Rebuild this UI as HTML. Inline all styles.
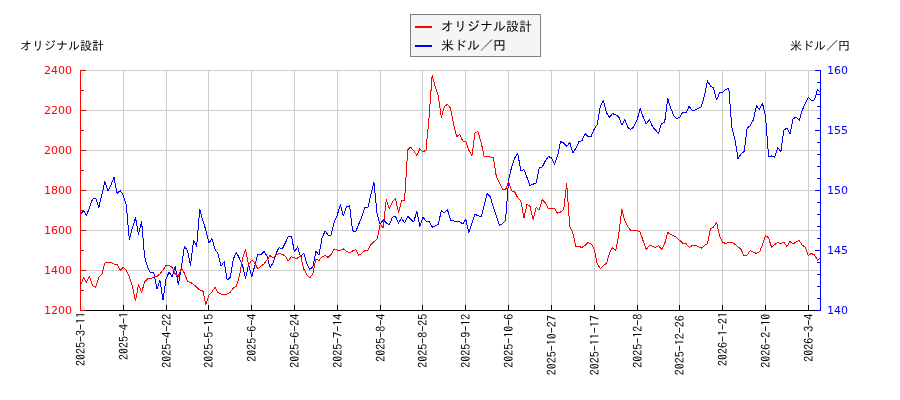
<!DOCTYPE html>
<html lang="ja"><head><meta charset="utf-8"><title>オリジナル設計 米ドル／円</title>
<style>
html,body{margin:0;padding:0;background:#fff;}
body{width:900px;height:400px;overflow:hidden;}
svg{display:block;}
.num{font-family:"DejaVu Sans","Liberation Sans",sans-serif;font-size:11px;}
.jp{font-family:"IPAGothic","Liberation Sans","Noto Sans CJK JP",sans-serif;font-size:12px;fill:#000;}
.lg{font-family:"IPAGothic","Liberation Sans","Noto Sans CJK JP",sans-serif;font-size:13px;fill:#000;}
.xt{font-family:"IPAGothic","Liberation Mono","Noto Sans CJK JP",monospace;font-size:12px;fill:#000;}
</style></head><body>
<svg width="900" height="400" viewBox="0 0 900 400">
<rect width="900" height="400" fill="#ffffff"/>
<path d="M80.5 70V310M123.5 70V310M166.5 70V310M208.5 70V310M251.5 70V310M294.5 70V310M337.5 70V310M380.5 70V310M422.5 70V310M465.5 70V310M508.5 70V310M551.5 70V310M594.5 70V310M637.5 70V310M679.5 70V310M722.5 70V310M765.5 70V310M808.5 70V310M80 70.5H821M80 110.5H821M80 150.5H821M80 190.5H821M80 230.5H821M80 270.5H821M80 310.5H821" stroke="#cccccc" stroke-width="1" fill="none"/>
<polyline points="80.4,214.4 83.5,210.6 86.5,215.6 89.6,207.0 92.6,199.0 95.7,198.2 98.8,207.4 101.8,195.0 104.9,181.4 107.9,191.0 111.0,185.0 114.0,177.4 117.1,193.4 120.2,190.6 123.2,195.0 126.3,205.0 129.3,239.6 132.4,228.0 135.5,217.6 138.5,234.4 141.6,221.6 144.6,257.0 147.7,267.6 150.7,273.0 153.8,272.6 156.9,289.0 159.9,280.0 163.0,300.0 166.0,279.0 169.1,272.0 172.2,277.0 175.2,266.0 178.3,285.0 181.3,268.0 184.4,246.6 187.5,250.4 190.5,265.4 193.6,240.5 196.6,246.5 199.7,209.4 202.7,220.0 205.8,230.0 208.9,243.0 211.9,238.6 215.0,249.0 218.0,254.0 221.1,266.0 224.2,261.6 227.2,280.0 230.3,277.4 233.3,259.0 236.4,252.4 239.4,258.4 242.5,265.4 245.6,278.4 248.6,264.0 251.7,277.0 254.7,266.0 257.8,254.0 260.9,255.0 263.9,251.4 267.0,256.0 270.0,267.4 273.1,263.0 276.2,253.0 279.2,247.4 282.3,249.0 285.3,243.0 288.4,236.4 291.4,236.4 294.5,252.0 297.6,247.0 300.6,257.0 303.7,253.0 306.7,263.0 309.8,269.4 312.9,267.0 315.9,251.4 319.0,255.0 322.0,238.0 325.1,231.0 328.1,235.0 331.2,235.0 334.3,221.5 337.3,215.0 340.4,204.4 343.4,216.0 346.5,207.0 349.6,206.0 352.6,230.6 355.7,232.0 358.7,224.2 361.8,217.0 364.8,207.4 367.9,207.6 371.0,194.0 374.0,182.4 377.1,214.0 380.1,224.4 383.2,219.6 386.3,223.0 389.3,225.0 392.4,217.2 395.4,216.2 398.5,223.0 401.6,218.0 404.6,223.0 407.7,216.3 410.7,219.4 413.8,222.0 416.8,211.0 419.9,226.5 423.0,217.2 426.0,221.0 429.1,221.5 432.1,227.2 435.2,226.0 438.3,224.4 441.3,210.6 444.4,213.0 447.4,209.4 450.5,220.0 453.5,221.0 456.6,221.2 459.7,221.6 462.7,224.0 465.8,219.4 468.8,232.4 471.9,223.6 475.0,214.4 478.0,215.6 481.1,217.2 484.1,205.6 487.2,193.6 490.3,196.6 493.3,207.0 496.4,216.0 499.4,225.4 502.5,223.6 505.5,220.4 508.6,180.0 511.7,166.6 514.7,158.0 517.8,153.4 520.8,171.0 523.9,169.6 527.0,177.4 530.0,185.6 533.1,184.2 536.1,183.0 539.2,168.0 542.2,167.0 545.3,161.0 548.4,156.4 551.4,158.0 554.5,164.0 557.5,156.0 560.6,141.6 563.7,143.0 566.7,146.4 569.8,142.5 572.8,153.0 575.9,148.0 579.0,141.6 582.0,140.6 585.1,133.6 588.1,136.4 591.2,136.4 594.2,129.0 597.3,124.4 600.4,106.0 603.4,100.6 606.5,113.0 609.5,117.0 612.6,113.6 615.7,115.0 618.7,116.6 621.8,125.0 624.8,119.6 627.9,127.6 630.9,129.4 634.0,126.4 637.1,120.0 640.1,108.6 643.2,117.0 646.2,124.0 649.3,119.6 652.4,126.4 655.4,130.0 658.5,133.4 661.5,123.6 664.6,122.6 667.7,98.6 670.7,108.0 673.8,116.0 676.8,119.0 679.9,117.0 682.9,112.0 686.0,113.0 689.1,106.4 692.1,110.4 695.2,110.0 698.2,108.6 701.3,106.6 704.4,96.0 707.4,80.6 710.5,86.0 713.5,88.0 716.6,100.0 719.6,93.0 722.7,92.0 725.8,89.4 728.8,88.0 731.9,128.0 734.9,139.0 738.0,158.6 741.1,154.0 744.1,151.6 747.2,128.0 750.2,125.6 753.3,120.0 756.4,106.0 759.4,109.4 762.5,103.4 765.5,116.0 768.6,157.0 771.6,156.0 774.7,157.4 777.8,147.4 780.8,152.0 783.9,130.0 786.9,128.0 790.0,134.0 793.1,119.0 796.1,117.0 799.2,120.4 802.2,110.4 805.3,103.4 808.3,97.4 811.4,100.4 814.5,100.0 817.5,89.4 820.6,92.4" fill="none" stroke="#0000ff" stroke-width="1" stroke-linejoin="round" shape-rendering="crispEdges"/>
<polyline points="80.4,285.6 83.5,278.0 86.5,282.0 89.6,276.4 92.6,285.6 95.7,287.4 98.8,277.0 101.8,274.4 104.9,263.0 107.9,262.0 111.0,262.4 114.0,264.0 117.1,264.4 120.2,270.4 123.2,267.4 126.3,270.0 129.3,277.0 132.4,286.0 135.5,301.0 138.5,284.4 141.6,292.4 144.6,282.0 147.7,278.6 150.7,279.0 153.8,277.0 156.9,276.4 159.9,274.0 163.0,270.0 166.0,265.6 169.1,265.4 172.2,267.4 175.2,274.0 178.3,276.6 181.3,268.0 184.4,273.0 187.5,281.6 190.5,282.4 193.6,284.4 196.6,287.0 199.7,290.0 202.7,290.0 205.8,305.0 208.9,295.0 211.9,292.0 215.0,287.4 218.0,292.4 221.1,294.0 224.2,294.2 227.2,294.0 230.3,292.4 233.3,288.0 236.4,286.0 239.4,276.0 242.5,259.0 245.6,249.4 248.6,265.0 251.7,260.0 254.7,263.0 257.8,269.0 260.9,266.0 263.9,264.0 267.0,260.0 270.0,255.6 273.1,258.0 276.2,255.0 279.2,253.6 282.3,254.4 285.3,256.0 288.4,261.0 291.4,256.6 294.5,258.0 297.6,258.0 300.6,255.6 303.7,269.0 306.7,274.4 309.8,277.6 312.9,274.0 315.9,259.0 319.0,260.4 322.0,257.0 325.1,255.4 328.1,257.4 331.2,254.4 334.3,249.0 337.3,250.0 340.4,250.4 343.4,249.0 346.5,251.4 349.6,252.6 352.6,251.0 355.7,249.6 358.7,255.4 361.8,253.4 364.8,250.6 367.9,250.0 371.0,244.4 374.0,241.6 377.1,239.2 380.1,224.2 383.2,228.0 386.3,199.4 389.3,208.6 392.4,202.0 395.4,198.6 398.5,212.4 401.6,200.8 404.6,200.0 407.7,150.0 410.7,147.0 413.8,151.0 416.8,155.4 419.9,148.6 423.0,152.0 426.0,150.0 429.1,117.0 432.1,75.5 435.2,86.6 438.3,95.4 441.3,117.4 444.4,106.4 447.4,104.4 450.5,108.0 453.5,124.0 456.6,136.8 459.7,134.5 462.7,141.0 465.8,141.6 468.8,150.0 471.9,156.0 475.0,133.0 478.0,131.6 481.1,142.4 484.1,156.0 487.2,156.6 490.3,157.0 493.3,157.6 496.4,177.0 499.4,183.0 502.5,189.0 505.5,190.0 508.6,181.6 511.7,191.0 514.7,192.0 517.8,198.0 520.8,200.4 523.9,218.0 527.0,204.4 530.0,206.4 533.1,219.4 536.1,207.4 539.2,210.0 542.2,199.6 545.3,203.0 548.4,208.6 551.4,208.0 554.5,208.4 557.5,213.4 560.6,212.0 563.7,209.4 566.7,183.4 569.8,226.8 572.8,233.0 575.9,246.4 579.0,246.6 582.0,247.4 585.1,245.4 588.1,242.4 591.2,244.0 594.2,249.0 597.3,264.0 600.4,268.6 603.4,265.4 606.5,263.4 609.5,253.0 612.6,247.4 615.7,250.6 618.7,235.0 621.8,209.4 624.8,220.6 627.9,227.0 630.9,230.4 634.0,230.4 637.1,230.4 640.1,232.0 643.2,241.0 646.2,249.4 649.3,245.6 652.4,246.0 655.4,247.6 658.5,245.6 661.5,249.4 664.6,244.0 667.7,232.4 670.7,234.4 673.8,236.0 676.8,237.6 679.9,240.6 682.9,243.4 686.0,243.4 689.1,247.4 692.1,245.6 695.2,245.4 698.2,246.4 701.3,248.4 704.4,245.4 707.4,243.6 710.5,229.0 713.5,227.0 716.6,222.4 719.6,236.0 722.7,242.4 725.8,243.4 728.8,242.2 731.9,242.4 734.9,244.2 738.0,246.8 741.1,249.5 744.1,256.0 747.2,255.0 750.2,250.6 753.3,252.0 756.4,253.4 759.4,252.0 762.5,245.0 765.5,235.4 768.6,238.0 771.6,247.4 774.7,244.6 777.8,242.6 780.8,243.6 783.9,242.4 786.9,246.4 790.0,241.6 793.1,244.0 796.1,242.0 799.2,240.4 802.2,245.0 805.3,247.4 808.3,255.4 811.4,253.4 814.5,255.0 817.5,260.0 820.6,258.0" fill="none" stroke="#ff0000" stroke-width="1" stroke-linejoin="round" shape-rendering="crispEdges"/>
<path d="M80 310.5H821" stroke="#000" stroke-width="1"/>
<path d="M80.5 310V305M123.5 310V305M166.5 310V305M208.5 310V305M251.5 310V305M294.5 310V305M337.5 310V305M380.5 310V305M422.5 310V305M465.5 310V305M508.5 310V305M551.5 310V305M594.5 310V305M637.5 310V305M679.5 310V305M722.5 310V305M765.5 310V305M808.5 310V305" stroke="#000" stroke-width="1" fill="none"/>
<path d="M80.5 70V311M80 70.5H86M80 90.5H84M80 110.5H86M80 130.5H84M80 150.5H86M80 170.5H84M80 190.5H86M80 210.5H84M80 230.5H86M80 250.5H84M80 270.5H86M80 290.5H84M80 310.5H86" stroke="#ff0000" stroke-width="1" fill="none"/>
<path d="M820.5 70V311M821 70.5H815M821 82.5H817M821 94.5H817M821 106.5H817M821 118.5H817M821 130.5H815M821 142.5H817M821 154.5H817M821 166.5H817M821 178.5H817M821 190.5H815M821 202.5H817M821 214.5H817M821 226.5H817M821 238.5H817M821 250.5H815M821 262.5H817M821 274.5H817M821 286.5H817M821 298.5H817M821 310.5H815" stroke="#0000ff" stroke-width="1" fill="none"/>
<text class="num" x="72" y="73.5" text-anchor="end" fill="#ff0000">2400</text>
<text class="num" x="72" y="113.5" text-anchor="end" fill="#ff0000">2200</text>
<text class="num" x="72" y="153.5" text-anchor="end" fill="#ff0000">2000</text>
<text class="num" x="72" y="193.5" text-anchor="end" fill="#ff0000">1800</text>
<text class="num" x="72" y="233.5" text-anchor="end" fill="#ff0000">1600</text>
<text class="num" x="72" y="273.5" text-anchor="end" fill="#ff0000">1400</text>
<text class="num" x="72" y="313.5" text-anchor="end" fill="#ff0000">1200</text>
<text class="num" x="827" y="73.5" fill="#0000ff">160</text>
<text class="num" x="827" y="133.5" fill="#0000ff">155</text>
<text class="num" x="827" y="193.5" fill="#0000ff">150</text>
<text class="num" x="827" y="253.5" fill="#0000ff">145</text>
<text class="num" x="827" y="313.5" fill="#0000ff">140</text>
<text class="xt" transform="translate(84.75,311.9) rotate(-90)" text-anchor="end">2025-3-11</text>
<text class="xt" transform="translate(127.75,311.9) rotate(-90)" text-anchor="end">2025-4-1</text>
<text class="xt" transform="translate(170.75,313.8) rotate(-90)" text-anchor="end">2025-4-22</text>
<text class="xt" transform="translate(212.75,313.8) rotate(-90)" text-anchor="end">2025-5-15</text>
<text class="xt" transform="translate(255.75,313.8) rotate(-90)" text-anchor="end">2025-6-4</text>
<text class="xt" transform="translate(298.75,313.8) rotate(-90)" text-anchor="end">2025-6-24</text>
<text class="xt" transform="translate(341.75,313.8) rotate(-90)" text-anchor="end">2025-7-14</text>
<text class="xt" transform="translate(384.75,313.8) rotate(-90)" text-anchor="end">2025-8-4</text>
<text class="xt" transform="translate(426.75,313.8) rotate(-90)" text-anchor="end">2025-8-25</text>
<text class="xt" transform="translate(469.75,313.8) rotate(-90)" text-anchor="end">2025-9-12</text>
<text class="xt" transform="translate(512.75,313.8) rotate(-90)" text-anchor="end">2025-10-6</text>
<text class="xt" transform="translate(555.75,315.2) rotate(-90)" text-anchor="end">2025-10-27</text>
<text class="xt" transform="translate(598.75,315.2) rotate(-90)" text-anchor="end">2025-11-17</text>
<text class="xt" transform="translate(641.75,313.8) rotate(-90)" text-anchor="end">2025-12-8</text>
<text class="xt" transform="translate(683.75,315.2) rotate(-90)" text-anchor="end">2025-12-26</text>
<text class="xt" transform="translate(726.75,311.9) rotate(-90)" text-anchor="end">2026-1-21</text>
<text class="xt" transform="translate(769.75,313.8) rotate(-90)" text-anchor="end">2026-2-10</text>
<text class="xt" transform="translate(812.75,313.8) rotate(-90)" text-anchor="end">2026-3-4</text>
<text class="jp" x="20" y="50">オリジナル設計</text>
<text class="jp" x="790" y="50">米ドル／円</text>
<rect x="410.5" y="14.5" width="130" height="42" fill="#f5f5f5" stroke="#808080" stroke-width="1"/>
<path d="M415 27H432" stroke="#ff0000" stroke-width="2"/>
<path d="M415 46H432" stroke="#0000ff" stroke-width="2"/>
<text class="lg" x="441" y="31">オリジナル設計</text>
<text class="lg" x="441" y="50">米ドル／円</text>
</svg>
</body></html>
